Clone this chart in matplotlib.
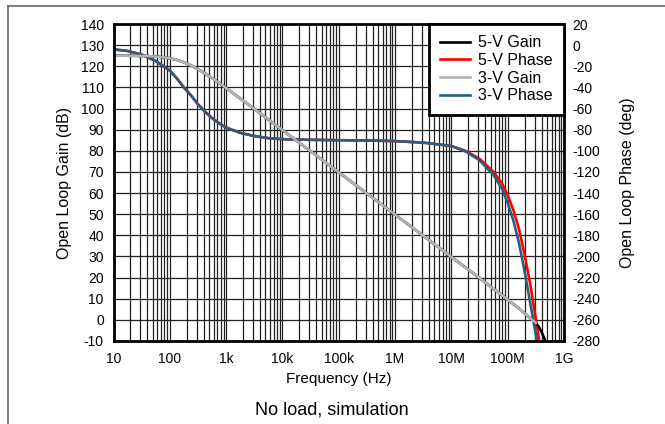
import numpy as np
import matplotlib
matplotlib.use('Agg')
import matplotlib.pyplot as plt
from matplotlib.ticker import FixedLocator, NullFormatter, LogLocator
from matplotlib.lines import Line2D

plt.rcParams['font.family'] = ['Liberation Sans', 'DejaVu Sans']
plt.rcParams['axes.unicode_minus'] = False

# ---- data (log10 of frequency in Hz) ----
gain3_logf = [1.0, 1.25, 1.5, 1.75, 1.875, 2.0, 2.125, 2.25, 2.375, 2.5, 2.625, 2.75, 2.875,
              3.0, 3.125, 3.25, 3.5, 4.0, 5.0, 6.0, 7.0, 7.5, 8.0, 8.25, 8.4, 8.5]
gain3_db = [125.0, 125.0, 124.9, 124.6, 124.3, 123.8, 123.0, 121.9, 120.4, 118.6, 116.6, 114.4, 112.1,
            109.7, 107.2, 104.8, 99.8, 89.8, 69.8, 49.8, 29.8, 19.8, 9.6, 4.3, 0.8, -1.4]

gain5_logf = gain3_logf + [8.55, 8.6, 8.67]
gain5_db = gain3_db + [-3.2, -5.6, -10.0]

phase3_logf = [1.0, 1.25, 1.5, 1.75, 1.875, 2.0, 2.125, 2.25, 2.375, 2.5, 2.625, 2.75, 2.875,
               3.0, 3.25, 3.5, 3.75, 4.0, 4.5, 5.0, 5.5, 6.0, 6.5, 6.75, 7.0,
               7.25, 7.5, 7.75, 7.9, 8.0, 8.1, 8.2, 8.3, 8.4, 8.52]
phase3_deg = [-4, -5.5, -9, -15, -19.5, -24, -31.5, -40, -47.5, -56, -63, -69, -74,
              -78, -83, -86, -88, -89, -89.6, -90, -90.2, -90.8, -92.3, -93.8, -95.5,
              -100.5, -109, -123, -136, -149.5, -166, -187, -214, -244, -280]

phase5_logf = phase3_logf[:25] + [7.25, 7.5, 7.75, 7.9, 8.0, 8.1, 8.2, 8.3, 8.4, 8.5, 8.56]
phase5_deg = phase3_deg[:25] + [-100, -107.5, -120, -131, -142, -156, -174, -198, -226, -259, -280]

x_ticks = [1e1, 1e2, 1e3, 1e4, 1e5, 1e6, 1e7, 1e8, 1e9]
x_tick_labels = ['10', '100', '1k', '10k', '100k', '1M', '10M', '100M', '1G']
gain_ticks = list(range(-10, 141, 10))
phase_ticks = list(range(-280, 21, 20))

# ---- figure ----
fig = plt.figure(figsize=(6.65, 4.24), dpi=100)
ax = fig.add_axes([113.5 / 665, 1 - 341 / 424, (564 - 113.5) / 665, (341 - 24) / 424])
ax2 = ax.twinx()
ax.set_zorder(ax2.get_zorder() + 1)
ax.patch.set_visible(False)

ax.set_xscale('log')
ax.set_xlim(1e1, 1e9)
ax.set_ylim(-10, 140)
ax2.set_ylim(-280, 20)

ax.xaxis.set_major_locator(FixedLocator(x_ticks))
ax.set_xticklabels(x_tick_labels)
ax.xaxis.set_minor_locator(LogLocator(base=10, subs=np.arange(2, 10), numticks=100))
ax.xaxis.set_minor_formatter(NullFormatter())
ax.set_yticks(gain_ticks)
ax2.set_yticks(phase_ticks)

# grid on bottom axes
ax2.xaxis.set_visible(True)
ax2.tick_params(axis='x', which='both', labelbottom=False, labeltop=False,
                bottom=False, top=False)
ax2.grid(True, which='both', axis='x', color='#222222', lw=0.9)
ax2.grid(True, which='major', axis='y', color='#222222', lw=0.9)
ax2.set_axisbelow(True)

# phase curves (bottom axes)
l_p5, = ax2.plot(np.power(10.0, phase5_logf), phase5_deg, color='#ff0000', lw=1.9, label='5-V Phase')
l_p3, = ax2.plot(np.power(10.0, phase3_logf), phase3_deg, color='#2d5c7c', lw=1.9, label='3-V Phase')
# gain curves (top axes)
l_g5, = ax.plot(np.power(10.0, gain5_logf), gain5_db, color='#000000', lw=1.9, label='5-V Gain')
l_g3, = ax.plot(np.power(10.0, gain3_logf), gain3_db, color='#b4b4b4', lw=1.9, label='3-V Gain')

for a in (ax, ax2):
    a.tick_params(which='both', length=0, labelsize=10, colors='black')
ax.tick_params(axis='y', pad=7)
ax.tick_params(axis='x', pad=8)
ax2.tick_params(axis='y', pad=6)
for s in ax.spines.values():
    s.set_linewidth(2.0)
for s in ax2.spines.values():
    s.set_visible(False)

ax.set_xlabel('Frequency (Hz)', fontsize=11, labelpad=4)
ax.set_ylabel('Open Loop Gain (dB)', fontsize=11.5, labelpad=6)
ax2.set_ylabel('Open Loop Phase (deg)', fontsize=11.5, labelpad=14)

leg = ax.legend(handles=[l_g5, l_p5, l_g3, l_p3], loc='upper right',
                bbox_to_anchor=(1.0, 1.0), borderaxespad=0.0, fancybox=False,
                framealpha=1.0, edgecolor='black', fontsize=11.5, handlelength=1.9,
                handletextpad=0.5, labelspacing=0.17, borderpad=0.7)
leg.get_frame().set_linewidth(2.0)

fig.text(332 / 665, 1 - 410 / 424, 'No load, simulation', ha='center', va='center', fontsize=13)

# figure frame (top and left)
fig.add_artist(Line2D([8 / 665, 1.0], [1 - 6 / 424, 1 - 6 / 424], color='#666666', lw=1.2))
fig.add_artist(Line2D([8 / 665, 8 / 665], [1 - 6 / 424, 0.0], color='#666666', lw=1.2))

fig.savefig('out.png', dpi=100)
